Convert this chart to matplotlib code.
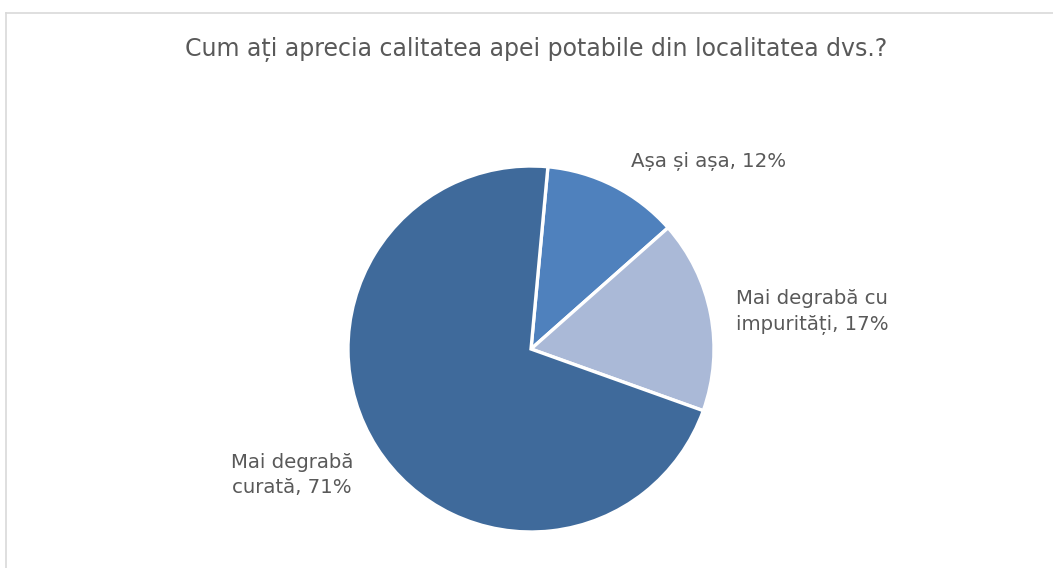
import matplotlib.pyplot as plt
from matplotlib.lines import Line2D

# data, clockwise from the top
labels = ['Așa și așa', 'Mai degrabă cu\nimpurități', 'Mai degrabă\ncurată']
values = [12, 17, 71]
colors = ['#4F81BD', '#AAB9D7', '#3F6A9B']

title = 'Cum ați aprecia calitatea apei potabile din localitatea dvs.?'

# label positions in pie units (radius = 1)
label_pos = [(0.973, 1.022), (1.536, 0.202), (-1.306, -0.689)]

W, H = 1053, 568
cx, cy, r = 531, 349, 183

fig = plt.figure(figsize=(W / 100, H / 100), dpi=100)
fig.patch.set_facecolor('white')

ax = fig.add_axes([0, 0, 1, 1])
ax.pie(values, colors=colors, startangle=90 - 5.3, counterclock=False,
       wedgeprops=dict(edgecolor='white', linewidth=2.4))
ax.set_aspect('auto')
ax.set_xlim(-cx / r, (W - cx) / r)
ax.set_ylim(-(H - cy) / r, cy / r)
ax.axis('off')

for lab, v, (x, y) in zip(labels, values, label_pos):
    ax.text(x, y, f'{lab}, {v}%', ha='center', va='center',
            fontsize=14.2, color='#595959', linespacing=1.45)

fig.text(536 / W, 1 - 50 / H, title, ha='center', va='center',
         fontsize=17, color='#595959')

# chart area border (top and left visible)
fig.add_artist(Line2D([6 / W, 6 / W], [0, 1 - 13 / H], color='#D9D9D9', lw=1.2))
fig.add_artist(Line2D([6 / W, 1], [1 - 13 / H, 1 - 13 / H], color='#D9D9D9', lw=1.2))

fig.savefig('out.png', dpi=100)
